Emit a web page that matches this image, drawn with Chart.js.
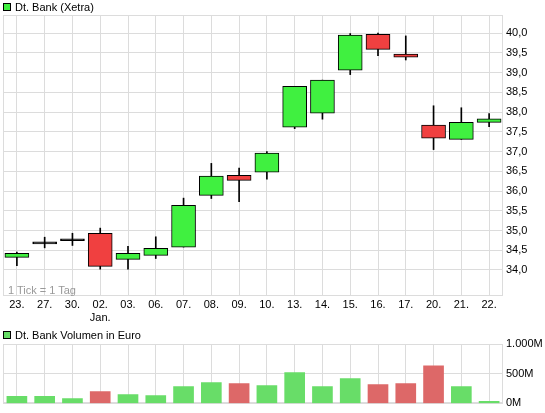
<!DOCTYPE html>
<html>
<head>
<meta charset="utf-8">
<script src="https://cdn.jsdelivr.net/npm/chart.js@4.4.0/dist/chart.umd.min.js"></script>
<style>
    body { margin: 0; background: #fff; font-family: "Liberation Sans", Arial, sans-serif; }
    #wrap { position: relative; width: 545px; height: 413px; overflow: hidden; }
    canvas { position: absolute; left: 0; }
    .box { position: absolute; left: 3px; width: 8px; height: 8px; box-sizing: border-box; border: 1px solid #000; }
    .txt { position: absolute; font-size: 11px; line-height: 12px; color: #000; white-space: nowrap; }
</style>
</head>
<body>
<div id="wrap">
    <canvas id="priceChart" width="545" height="324" style="top:0"></canvas>
    <canvas id="volumeChart" width="545" height="87" style="top:326px"></canvas>
    <div class="box" style="top:3px; background:#40f040"></div>
    <div class="txt" style="left:15px; top:1px">Dt. Bank (Xetra)</div>
    <div class="txt" style="left:8px; top:284px; color:#999">1 Tick = 1 Tag</div>
    <div class="box" style="top:331px; background:#66dd66"></div>
    <div class="txt" style="left:15px; top:329px">Dt. Bank Volumen in Euro</div>
</div>
<script>
// trading days (Dec / Jan)
const days = ['23.', '27.', '30.', ['02.', 'Jan.'], '03.', '06.', '07.', '08.', '09.', '10.',
              '13.', '14.', '15.', '16.', '17.', '20.', '21.', '22.'];

// OHLC
const openPrices  = [34.32, 34.66, 34.74, 34.93, 34.27, 34.37, 34.58, 35.89, 36.40, 36.48,
                     37.62, 37.97, 39.06, 39.97, 39.47, 37.67, 37.31, 37.74];
const closePrices = [34.42, 34.66, 34.74, 34.09, 34.42, 34.55, 35.64, 36.38, 36.27, 36.96,
                     38.65, 38.81, 39.95, 39.59, 39.39, 37.34, 37.74, 37.83];
const highPrices  = [34.45, 34.83, 34.93, 35.06, 34.60, 34.84, 35.82, 36.70, 36.58, 37.00,
                     38.65, 38.81, 39.99, 40.00, 39.93, 38.16, 38.11, 37.96];
const lowPrices   = [34.11, 34.56, 34.62, 34.02, 34.02, 34.29, 34.58, 35.81, 35.73, 36.30,
                     37.58, 37.82, 38.95, 39.43, 39.32, 37.05, 37.31, 37.63];

// volume in million euro
const volumes = [117, 117, 83, 200, 150, 133, 283, 350, 333, 300,
                 517, 283, 417, 317, 333, 633, 283, 33];

const priceTicks = [34, 34.5, 35, 35.5, 36, 36.5, 37, 37.5, 38, 38.5, 39, 39.5, 40];
const volumeTicks = [0, 500, 1000];

const gridColor = '#dcdcdc';
const font = { family: '"Liberation Sans", Arial, sans-serif', size: 11 };

const candleColor = (i) => {
    if (closePrices[i] > openPrices[i]) return '#40f040';
    if (closePrices[i] < openPrices[i]) return '#f04040';
    return '#000';
};
const volumeColor = (i) => closePrices[i] < openPrices[i] ? '#dd6868' : '#68dd68';

// thin grey frame round the plot area
const framePlugin = {
    id: 'frame',
    beforeDatasetsDraw(chart) {
        const { ctx, chartArea: a } = chart;
        const l = Math.round(a.left) + 0.5, t = Math.round(a.top) + 0.5;
        const r = Math.round(a.right) - 0.5, b = Math.round(a.bottom) - 0.5;
        ctx.save();
        ctx.strokeStyle = gridColor;
        ctx.lineWidth = 1;
        ctx.strokeRect(l, t, r - l, b - t);
        ctx.restore();
    }
};

const deFormat = (v) => String(v).replace(/\B(?=(\d{3})+(?!\d))/g, '.');

Chart.defaults.font = font;
Chart.defaults.color = '#000';

new Chart(document.getElementById('priceChart'), {
    type: 'bar',
    data: {
        labels: days,
        datasets: [{
            label: 'Dt. Bank (Xetra)',
            data: openPrices.map((o, i) => [o, closePrices[i]]),
            backgroundColor: days.map((d, i) => candleColor(i)),
            borderColor: '#000',
            borderWidth: 1,
            borderSkipped: false,
            barThickness: 24,
            minBarLength: 2,
            grouped: false,
            order: 1
        }, {
            label: 'range',
            data: lowPrices.map((l, i) => [l, highPrices[i]]),
            backgroundColor: '#000',
            borderWidth: 0,
            barThickness: 1,
            grouped: false,
            order: 2
        }]
    },
    options: {
        responsive: false,
        animation: false,
        devicePixelRatio: 1,
        layout: { padding: { left: 3, top: 15, right: 0, bottom: 0 } },
        plugins: { legend: { display: false }, tooltip: { enabled: false } },
        scales: {
            x: {
                offset: true,
                grid: { color: gridColor, offset: false, drawTicks: false },
                border: { display: false },
                ticks: { padding: 2, maxRotation: 0, autoSkip: false },
                afterFit: (s) => { s.height = 28; }
            },
            y: {
                position: 'right',
                min: 33.34,
                max: 40.46,
                grid: { color: gridColor, drawTicks: false },
                border: { display: false },
                afterBuildTicks: (s) => { s.ticks = priceTicks.map(v => ({ value: v })); },
                ticks: {
                    padding: 3,
                    callback: (v) => v.toFixed(1).replace('.', ',')
                },
                afterFit: (s) => { s.width = 42; }
            }
        }
    },
    plugins: [framePlugin]
});

new Chart(document.getElementById('volumeChart'), {
    type: 'bar',
    data: {
        labels: days,
        datasets: [{
            label: 'Dt. Bank Volumen in Euro',
            data: volumes,
            backgroundColor: days.map((d, i) => volumeColor(i)),
            borderWidth: 0,
            barThickness: 20
        }]
    },
    options: {
        responsive: false,
        animation: false,
        devicePixelRatio: 1,
        layout: { padding: { left: 3, top: 18, right: 0, bottom: 9 } },
        plugins: { legend: { display: false }, tooltip: { enabled: false } },
        scales: {
            x: {
                offset: true,
                grid: { color: gridColor, offset: false, drawTicks: false },
                border: { display: false },
                ticks: { display: false },
                afterFit: (s) => { s.height = 0; }
            },
            y: {
                position: 'right',
                min: 0,
                max: 1000,
                grid: { color: gridColor, drawTicks: false },
                border: { display: false },
                afterBuildTicks: (s) => { s.ticks = volumeTicks.map(v => ({ value: v })); },
                ticks: {
                    padding: 3,
                    callback: (v) => deFormat(v) + 'M'
                },
                afterFit: (s) => { s.width = 42; }
            }
        }
    },
    plugins: [framePlugin]
});
</script>
</body>
</html>
